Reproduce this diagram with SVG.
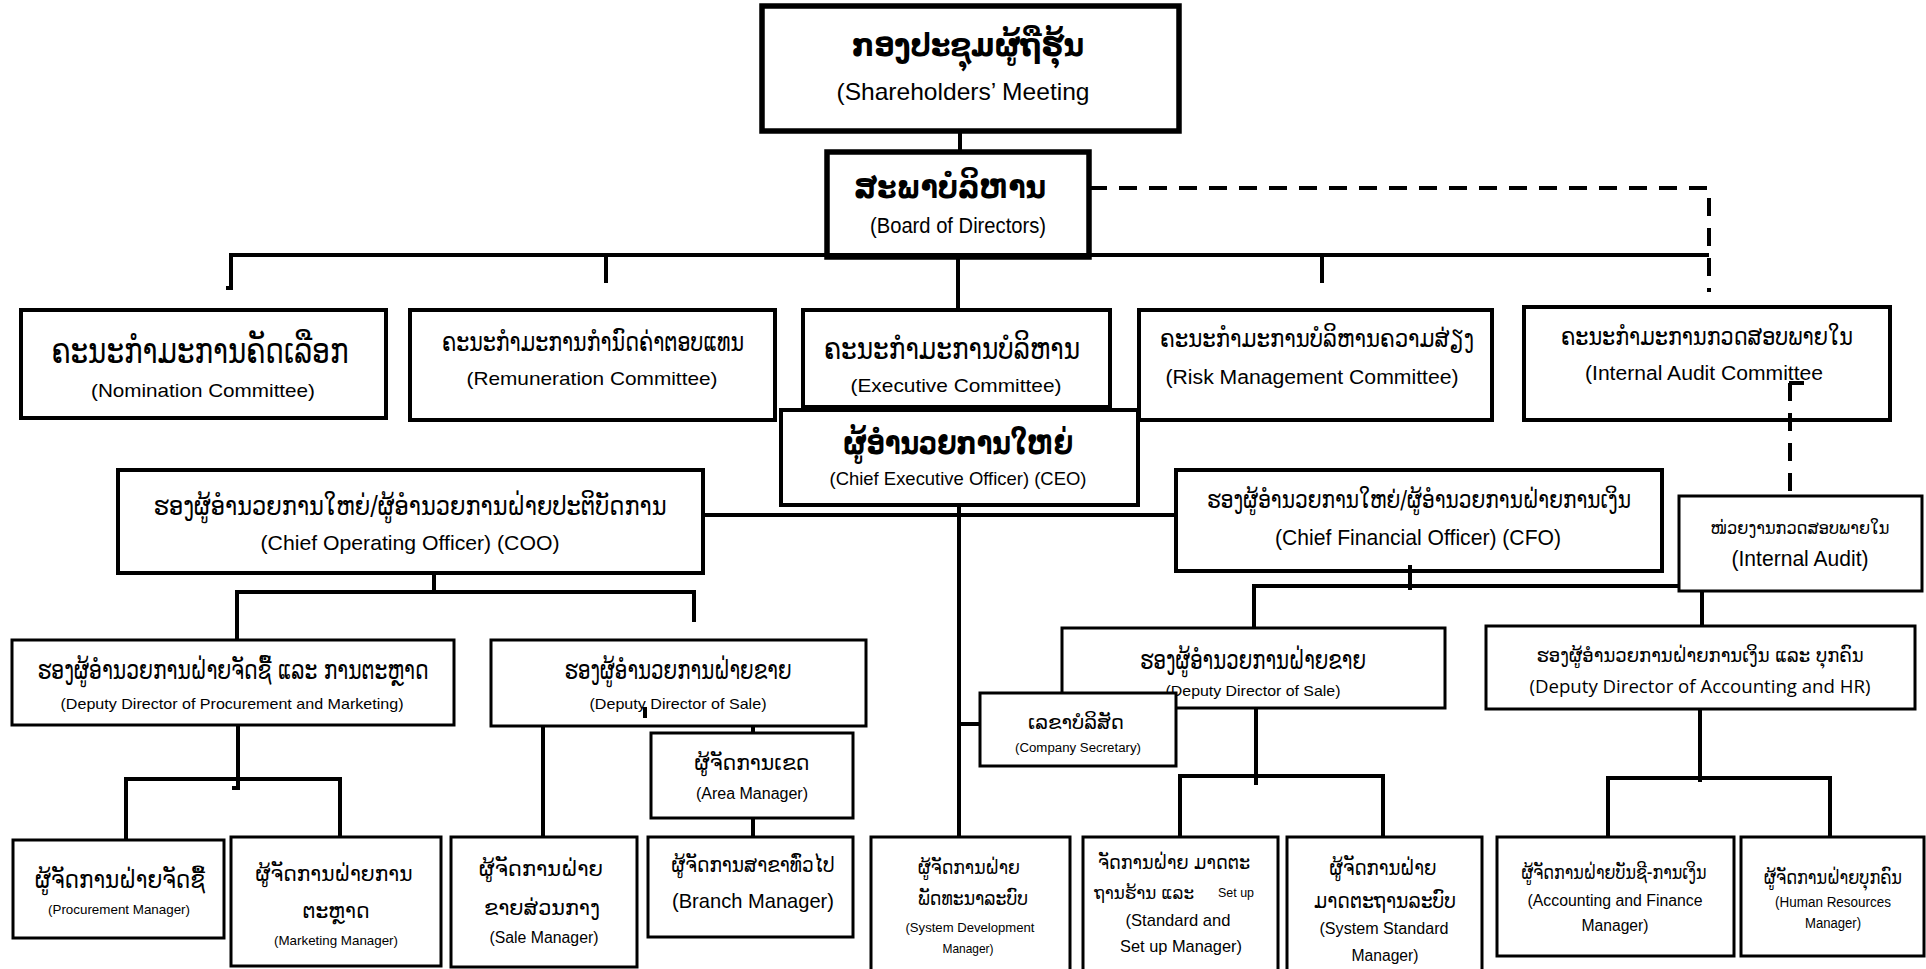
<svg xmlns="http://www.w3.org/2000/svg" width="1926" height="969" viewBox="0 0 1926 969">
<style>
.b{fill:#fff;stroke:#000;stroke-width:3}
.b4{stroke-width:4}
.b5{stroke-width:5.5}
.c{fill:none;stroke:#000;stroke-width:4}
.d{stroke-dasharray:18 12}
text{text-anchor:middle;dominant-baseline:central;fill:#000}
.lo{font-family:"DejaVu Sans","Noto Sans",sans-serif}
.lob{font-family:"DejaVu Sans","Noto Sans",sans-serif;font-weight:bold}
.en{font-family:"Liberation Sans Narrow","Liberation Sans",Arial,sans-serif}
.ea{font-family:"Liberation Sans",Arial,sans-serif}
.en2{font-family:"Open Sans","Noto Sans",sans-serif}
</style>
<rect width="1926" height="969" fill="#fff"/>
<g id="shareholders">
<rect class="b b5" x="762" y="6" width="417" height="125"/>
<text class="lob" x="968" y="45" font-size="31" textLength="232" lengthAdjust="spacingAndGlyphs">ກອງປະຊຸມຜູ້ຖືຮຸ້ນ</text>
<text class="en" x="963" y="91" font-size="24" textLength="253" lengthAdjust="spacingAndGlyphs">(Shareholders’ Meeting</text>
</g>
<g id="board">
<rect class="b b5" x="827" y="152" width="262" height="105"/>
<text class="lob" x="950" y="187" font-size="31" textLength="192" lengthAdjust="spacingAndGlyphs">ສະພາບໍລິຫານ</text>
<text class="en" x="958" y="225" font-size="22" textLength="176" lengthAdjust="spacingAndGlyphs">(Board of Directors)</text>
</g>
<g id="nomination">
<rect class="b b4" x="21" y="310" width="365" height="108"/>
<text class="lo" x="200" y="350" font-size="36" textLength="297" lengthAdjust="spacingAndGlyphs">ຄະນະກຳມະການຄັດເລືອກ</text>
<text class="en" x="203" y="390" font-size="19" textLength="224" lengthAdjust="spacingAndGlyphs">(Nomination Committee)</text>
</g>
<g id="remuneration">
<rect class="b b4" x="410" y="310" width="365" height="110"/>
<text class="lo" x="593" y="342" font-size="26" textLength="302" lengthAdjust="spacingAndGlyphs">ຄະນະກຳມະການກຳນົດຄ່າຕອບແທນ</text>
<text class="en" x="592" y="378" font-size="19" textLength="251" lengthAdjust="spacingAndGlyphs">(Remuneration Committee)</text>
</g>
<g id="executive">
<rect class="b b4" x="803" y="310" width="307" height="97"/>
<text class="lo" x="952" y="348" font-size="31" textLength="256" lengthAdjust="spacingAndGlyphs">ຄະນະກຳມະການບໍລິຫານ</text>
<text class="en" x="956" y="385" font-size="19" textLength="211" lengthAdjust="spacingAndGlyphs">(Executive Committee)</text>
</g>
<g id="risk">
<rect class="b b4" x="1139" y="310" width="353" height="110"/>
<text class="lo" x="1317" y="338" font-size="25" textLength="314" lengthAdjust="spacingAndGlyphs">ຄະນະກຳມະການບໍລິຫານຄວາມສ່ຽງ</text>
<text class="en" x="1312" y="377" font-size="20" textLength="293" lengthAdjust="spacingAndGlyphs">(Risk Management Committee)</text>
</g>
<g id="audit-committee">
<rect class="b b4" x="1524" y="307" width="366" height="113"/>
<text class="lo" x="1707" y="337" font-size="24" textLength="292" lengthAdjust="spacingAndGlyphs">ຄະນະກຳມະການກວດສອບພາຍໃນ</text>
<text class="en" x="1704" y="373" font-size="20" textLength="238" lengthAdjust="spacingAndGlyphs">(Internal Audit Committee</text>
</g>
<g id="ceo">
<rect class="b b4" x="781" y="410" width="357" height="95"/>
<text class="lob" x="958" y="443" font-size="31" textLength="230" lengthAdjust="spacingAndGlyphs">ຜູ້ອຳນວຍການໃຫຍ່</text>
<text class="en" x="958" y="478" font-size="19" textLength="257" lengthAdjust="spacingAndGlyphs">(Chief Executive Officer) (CEO)</text>
</g>
<g id="coo">
<rect class="b b4" x="118" y="470" width="585" height="103"/>
<text class="lo" x="410" y="505" font-size="27" textLength="513" lengthAdjust="spacingAndGlyphs">ຮອງຜູ້ອຳນວຍການໃຫຍ່/ຜູ້ອຳນວຍການຝ່າຍປະຕິບັດການ</text>
<text class="en" x="410" y="542" font-size="21" textLength="299" lengthAdjust="spacingAndGlyphs">(Chief Operating Officer) (COO)</text>
</g>
<g id="cfo">
<rect class="b b4" x="1176" y="470" width="486" height="101"/>
<text class="lo" x="1419" y="500" font-size="24" textLength="424" lengthAdjust="spacingAndGlyphs">ຮອງຜູ້ອຳນວຍການໃຫຍ່/ຜູ້ອຳນວຍການຝ່າຍການເງິນ</text>
<text class="en" x="1418" y="537" font-size="22" textLength="286" lengthAdjust="spacingAndGlyphs">(Chief Financial Officer) (CFO)</text>
</g>
<g id="internal-audit">
<rect class="b" x="1679" y="496" width="243" height="95"/>
<text class="lo" x="1800" y="527" font-size="18" textLength="179" lengthAdjust="spacingAndGlyphs">ໜ່ວຍງານກວດສອບພາຍໃນ</text>
<text class="en" x="1800" y="558" font-size="22" textLength="137" lengthAdjust="spacingAndGlyphs">(Internal Audit)</text>
</g>
<g id="dd-procurement">
<rect class="b" x="12" y="640" width="442" height="85"/>
<text class="lo" x="233" y="670" font-size="26" textLength="391" lengthAdjust="spacingAndGlyphs">ຮອງຜູ້ອຳນວຍການຝ່າຍຈັດຊື້ ແລະ ການຕະຫຼາດ</text>
<text class="en" x="232" y="703" font-size="15" textLength="343" lengthAdjust="spacingAndGlyphs">(Deputy Director of Procurement and Marketing)</text>
</g>
<g id="dd-sale-left">
<rect class="b" x="491" y="640" width="375" height="86"/>
<text class="lo" x="678" y="670" font-size="26" textLength="227" lengthAdjust="spacingAndGlyphs">ຮອງຜູ້ອຳນວຍການຝ່າຍຂາຍ</text>
<text class="en" x="678" y="703" font-size="15" textLength="177" lengthAdjust="spacingAndGlyphs">(Deputy Director of Sale)</text>
</g>
<g id="dd-sale-right">
<rect class="b" x="1062" y="628" width="383" height="80"/>
<text class="lo" x="1253" y="660" font-size="26" textLength="226" lengthAdjust="spacingAndGlyphs">ຮອງຜູ້ອຳນວຍການຝ່າຍຂາຍ</text>
<text class="en" x="1253" y="690" font-size="15" textLength="175" lengthAdjust="spacingAndGlyphs">(Deputy Director of Sale)</text>
</g>
<g id="dd-accounting-hr">
<rect class="b" x="1486" y="626" width="429" height="83"/>
<text class="lo" x="1700" y="655" font-size="19" textLength="327" lengthAdjust="spacingAndGlyphs">ຮອງຜູ້ອຳນວຍການຝ່າຍການເງິນ ແລະ ບຸກຄົນ</text>
<text class="en2" x="1700" y="686" font-size="19" textLength="341" lengthAdjust="spacingAndGlyphs">(Deputy Director of Accounting and HR)</text>
</g>
<g id="company-secretary">
<rect class="b" x="980" y="693" width="196" height="73"/>
<text class="lo" x="1076" y="722" font-size="20" textLength="96" lengthAdjust="spacingAndGlyphs">ເລຂາບໍລິສັດ</text>
<text class="en" x="1078" y="748" font-size="12" textLength="126" lengthAdjust="spacingAndGlyphs">(Company Secretary)</text>
</g>
<g id="area-manager">
<rect class="b" x="651" y="733" width="202" height="85"/>
<text class="lo" x="752" y="763" font-size="21" textLength="115" lengthAdjust="spacingAndGlyphs">ຜູ້ຈັດການເຂດ</text>
<text class="en" x="752" y="793" font-size="16" textLength="112" lengthAdjust="spacingAndGlyphs">(Area Manager)</text>
</g>
<g id="procurement-manager">
<rect class="b" x="13" y="840" width="211" height="98"/>
<text class="lo" x="120" y="880" font-size="24" textLength="170" lengthAdjust="spacingAndGlyphs">ຜູ້ຈັດການຝ່າຍຈັດຊື້</text>
<text class="en" x="119" y="909" font-size="13" textLength="142" lengthAdjust="spacingAndGlyphs">(Procurement Manager)</text>
</g>
<g id="marketing-manager">
<rect class="b" x="231" y="837" width="210" height="129"/>
<text class="lo" x="334" y="873" font-size="22" textLength="157" lengthAdjust="spacingAndGlyphs">ຜູ້ຈັດການຝ່າຍການ</text>
<text class="lo" x="336" y="910" font-size="22" textLength="67" lengthAdjust="spacingAndGlyphs">ຕະຫຼາດ</text>
<text class="en" x="336" y="940" font-size="13" textLength="124" lengthAdjust="spacingAndGlyphs">(Marketing Manager)</text>
</g>
<g id="sale-manager">
<rect class="b" x="451" y="837" width="186" height="130"/>
<text class="lo" x="541" y="868" font-size="22" textLength="124" lengthAdjust="spacingAndGlyphs">ຜູ້ຈັດການຝ່າຍ</text>
<text class="lo" x="542" y="907" font-size="22" textLength="116" lengthAdjust="spacingAndGlyphs">ຂາຍສ່ວນກາງ</text>
<text class="en" x="544" y="937" font-size="16" textLength="109" lengthAdjust="spacingAndGlyphs">(Sale Manager)</text>
</g>
<g id="branch-manager">
<rect class="b" x="648" y="837" width="205" height="100"/>
<text class="lo" x="753" y="865" font-size="21" textLength="163" lengthAdjust="spacingAndGlyphs">ຜູ້ຈັດການສາຂາທົ່ວໄປ</text>
<text class="en" x="753" y="900" font-size="21" textLength="162" lengthAdjust="spacingAndGlyphs">(Branch Manager)</text>
</g>
<g id="system-development-manager">
<rect class="b" x="871" y="837" width="199" height="140"/>
<text class="lo" x="969" y="867" font-size="20" textLength="102" lengthAdjust="spacingAndGlyphs">ຜູ້ຈັດການຝ່າຍ</text>
<text class="lo" x="973" y="898" font-size="20" textLength="110" lengthAdjust="spacingAndGlyphs">ພັດທະນາລະບົບ</text>
<text class="ea" x="970" y="927" font-size="13" textLength="129" lengthAdjust="spacingAndGlyphs">(System Development</text>
<text class="ea" x="968" y="948" font-size="13" textLength="51" lengthAdjust="spacingAndGlyphs">Manager)</text>
</g>
<g id="standard-setup-manager">
<rect class="b" x="1083" y="837" width="195" height="140"/>
<text class="lo" x="1174" y="862" font-size="19" textLength="152" lengthAdjust="spacingAndGlyphs">ຈັດການຝ່າຍ ມາດຕະ</text>
<text class="lo" x="1144" y="893" font-size="17" textLength="100" lengthAdjust="spacingAndGlyphs">ຖານຮ້ານ ແລະ</text>
<text class="ea" x="1236" y="893" font-size="12" textLength="36" lengthAdjust="spacingAndGlyphs">Set up</text>
<text class="ea" x="1178" y="920" font-size="17" textLength="105" lengthAdjust="spacingAndGlyphs">(Standard and</text>
<text class="ea" x="1181" y="946" font-size="17" textLength="122" lengthAdjust="spacingAndGlyphs">Set up Manager)</text>
</g>
<g id="system-standard-manager">
<rect class="b" x="1287" y="837" width="195" height="140"/>
<text class="lo" x="1383" y="867" font-size="22" textLength="107" lengthAdjust="spacingAndGlyphs">ຜູ້ຈັດການຝ່າຍ</text>
<text class="lo" x="1385" y="900" font-size="22" textLength="142" lengthAdjust="spacingAndGlyphs">ມາດຕະຖານລະບົບ</text>
<text class="en" x="1384" y="928" font-size="16" textLength="129" lengthAdjust="spacingAndGlyphs">(System Standard</text>
<text class="en" x="1385" y="955" font-size="16" textLength="67" lengthAdjust="spacingAndGlyphs">Manager)</text>
</g>
<g id="accounting-finance-manager">
<rect class="b" x="1497" y="837" width="237" height="119"/>
<text class="lo" x="1614" y="872" font-size="19" textLength="185" lengthAdjust="spacingAndGlyphs">ຜູ້ຈັດການຝ່າຍບັນຊີ-ການເງິນ</text>
<text class="ea" x="1615" y="900" font-size="16" textLength="175" lengthAdjust="spacingAndGlyphs">(Accounting and Finance</text>
<text class="ea" x="1615" y="925" font-size="16" textLength="67" lengthAdjust="spacingAndGlyphs">Manager)</text>
</g>
<g id="hr-manager">
<rect class="b" x="1741" y="837" width="183" height="119"/>
<text class="lo" x="1833" y="877" font-size="19" textLength="138" lengthAdjust="spacingAndGlyphs">ຜູ້ຈັດການຝ່າຍບຸກຄົນ</text>
<text class="ea" x="1833" y="902" font-size="14" textLength="116" lengthAdjust="spacingAndGlyphs">(Human Resources</text>
<text class="ea" x="1833" y="923" font-size="14" textLength="56" lengthAdjust="spacingAndGlyphs">Manager)</text>
</g>
<g id="connectors">
<path class="c" d="M960,131V152"/>
<path class="c" d="M226,288H231V255H1709M958,257V310M606,255V283M1322,255V283"/>
<path class="c d" d="M1089,188H1709V292"/>
<path class="c d" d="M1790,383V496"/>
<path class="c" d="M1789,383H1804" stroke-width="3"/>
<path class="c" d="M703,515H1176M959,505V837"/>
<path class="c" d="M960,724H980" stroke-width="7"/>
<path class="c" d="M434,573V592M237,640V592H694V622"/>
<path class="c" d="M238,725V788H232M126,840V779H340V837"/>
<path class="c" d="M543,726V837M753,726V733M753,818V837"/>
<path class="c" d="M645,707V718" stroke-width="3"/>
<path class="c" d="M1410,565V590M1254,628V586H1679M1702,591V626"/>
<path class="c" d="M1256,708V785M1180,837V776H1383V837"/>
<path class="c" d="M1700,709V782M1608,837V778H1830V837"/>
</g>
</svg>
